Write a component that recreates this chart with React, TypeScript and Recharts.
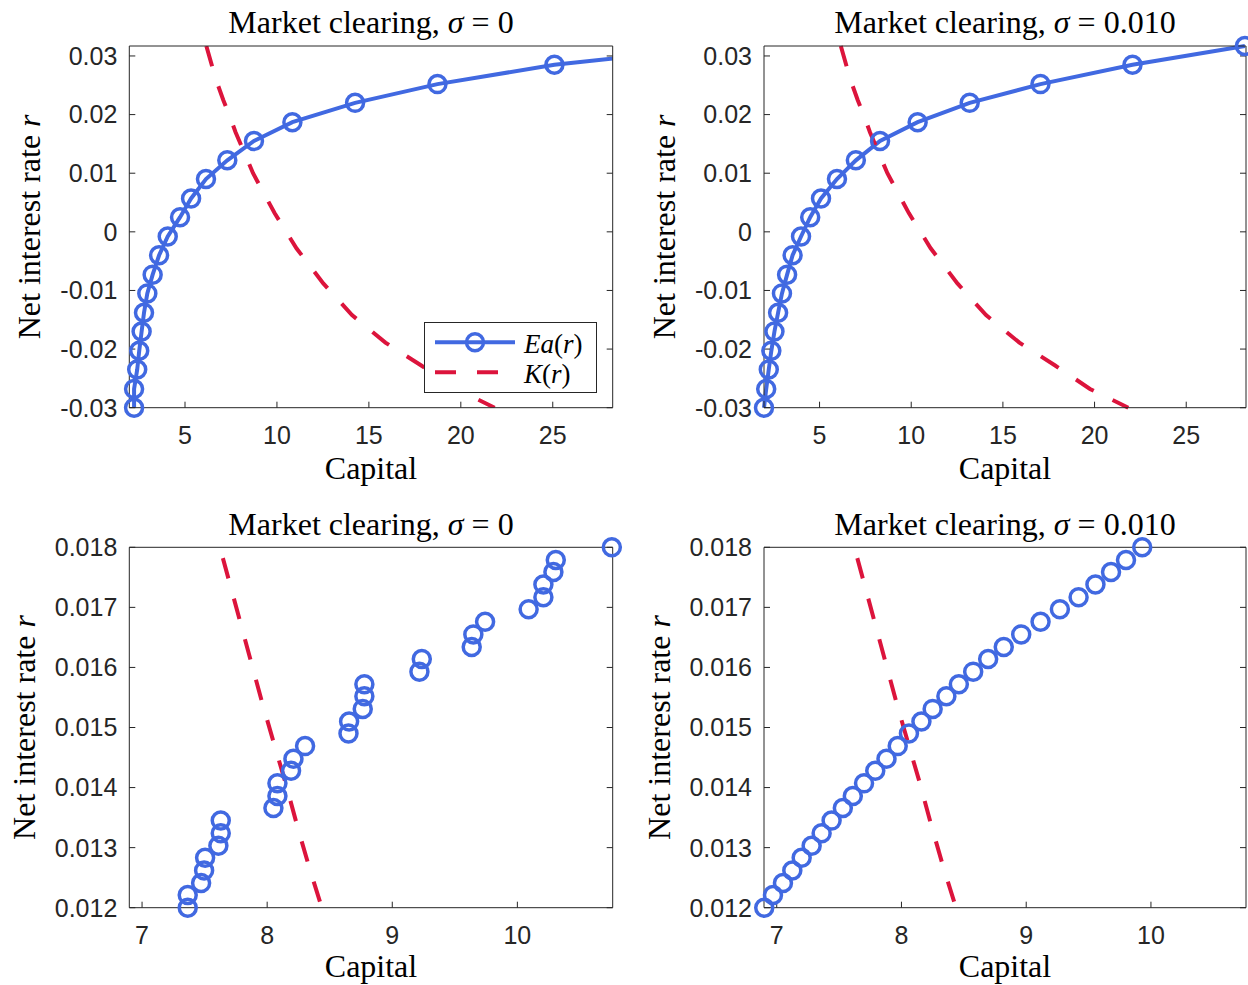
import React from 'react';
import { ComposedChart, Line, Scatter, XAxis, YAxis, Legend } from 'recharts';

// ---------------- data ----------------
const topRate = [-0.03, -0.0268, -0.0235, -0.0203, -0.017, -0.0138, -0.0105, -0.0073, -0.004, -0.0008, 0.0025, 0.0057, 0.009, 0.0122, 0.0155, 0.0187, 0.022, 0.0252, 0.0285, 0.0317];
const topCapitalSigma0 = [2.23, 2.23, 2.4, 2.51, 2.64, 2.77, 2.95, 3.24, 3.59, 4.06, 4.73, 5.33, 6.14, 7.3, 8.75, 10.84, 14.25, 18.73, 25.09, 34.5];
const topCapitalSigma1 = [1.97, 2.09, 2.23, 2.37, 2.54, 2.74, 2.95, 3.23, 3.53, 3.99, 4.49, 5.08, 5.95, 6.98, 8.3, 10.35, 13.19, 17.05, 22.07, 28.2];
const topKCapital = [6.16, 6.68, 7.08, 7.4, 7.75, 8.7, 9.87, 11.06, 12.52, 14.08, 15.9, 17.85, 19.75, 21.84];
const topKRate = [0.0317, 0.026, 0.0225, 0.02, 0.017, 0.01, 0.0032, -0.0028, -0.0088, -0.0142, -0.0189, -0.0228, -0.0268, -0.03];

const botRate = [0.012, 0.01221, 0.01241, 0.01262, 0.01283, 0.01303, 0.01324, 0.01345, 0.01366, 0.01386, 0.01407, 0.01428, 0.01448, 0.01469, 0.0149, 0.0151, 0.01531, 0.01552, 0.01572, 0.01593, 0.01614, 0.01634, 0.01655, 0.01676, 0.01697, 0.01717, 0.01738, 0.01759, 0.01779, 0.018];
const botCapitalSigma0 = [7.365, 7.365, 7.472, 7.496, 7.504, 7.61, 7.629, 7.629, 8.05, 8.082, 8.082, 8.191, 8.21, 8.303, 8.65, 8.655, 8.764, 8.777, 8.777, 9.217, 9.236, 9.635, 9.648, 9.742, 10.09, 10.208, 10.208, 10.288, 10.307, 10.755];
const botCapitalSigma1 = [6.9, 6.97, 7.05, 7.125, 7.2, 7.28, 7.36, 7.44, 7.53, 7.61, 7.7, 7.79, 7.88, 7.97, 8.06, 8.16, 8.25, 8.36, 8.46, 8.575, 8.695, 8.82, 8.96, 9.115, 9.27, 9.42, 9.555, 9.68, 9.8, 9.93];
const botKCapital = [7.646, 7.774, 7.868, 7.962, 8.055, 8.148, 8.242, 8.335, 8.437];
const botKRate = [0.01782, 0.01684, 0.01612, 0.0154, 0.01473, 0.01407, 0.01335, 0.01268, 0.012];

const topXTicks = [5, 10, 15, 20, 25];
const topYTicks = [-0.03, -0.02, -0.01, 0, 0.01, 0.02, 0.03];
const topYTickLabels = ['-0.03', '-0.02', '-0.01', '0', '0.01', '0.02', '0.03'];
const botXTicks = [7, 8, 9, 10];
const botYTicks = [0.012, 0.013, 0.014, 0.015, 0.016, 0.017, 0.018];
const botYTickLabels = ['0.012', '0.013', '0.014', '0.015', '0.016', '0.017', '0.018'];
const sigmaLabels = ['0', '0.010'];

// ---------------- style ----------------
const BLUE = '#4169E1';
const RED = '#DC143C';
const AX = '#262626';
const SERIF = '"Liberation Serif", "Times New Roman", serif';
const SANS = '"Liberation Sans", Arial, Helvetica, sans-serif';

type Pt = { k: number; r: number };
const zip = (xs: number[], ys: number[]): Pt[] => xs.map((k, i) => ({ k, r: ys[i] }));

const LegendBox = () => (
  <svg width={173} height={71} style={{ display: 'block' }}>
    <rect x={0.5} y={0.5} width={172} height={70} fill="#fff" stroke={AX} strokeWidth={1} />
    <line x1={11} x2={91} y1={20.3} y2={20.3} stroke={BLUE} strokeWidth={4} />
    <circle cx={51} cy={20.3} r={8.5} fill="none" stroke={BLUE} strokeWidth={3.5} />
    <line x1={11} x2={91} y1={50.3} y2={50.3} stroke={RED} strokeWidth={4} strokeDasharray="21 21" />
    <text x={100} y={30.5} fontFamily={SERIF} fontSize={27} fill="#000">
      <tspan fontStyle="italic">Ea</tspan>(<tspan fontStyle="italic">r</tspan>)
    </text>
    <text x={100} y={60.5} fontFamily={SERIF} fontSize={27} fill="#000">
      <tspan fontStyle="italic">K</tspan>(<tspan fontStyle="italic">r</tspan>)
    </text>
  </svg>
);

type PanelProps = {
  left: number;
  top: number;
  width: number;
  height: number;
  plot: { l: number; t: number; r: number; b: number };
  xDomain: [number, number];
  yDomain: [number, number];
  xTicks: number[];
  yTicks: number[];
  yTickLabels: string[];
  ea: Pt[];
  kLine: Pt[];
  connect: boolean;
  overflow: boolean;
  legend: boolean;
  sigma: string;
  yLabelX: number;
  titleY: number;
  xLabelY: number;
};

const Panel = (p: PanelProps) => {
  const cx = (p.plot.l + p.plot.r) / 2;
  const cy = (p.plot.t + p.plot.b) / 2;
  const tickStyle = { fill: AX, fontSize: 25, fontFamily: SANS };
  const fmtY = (v: number) => {
    const i = p.yTicks.findIndex((t) => Math.abs(t - v) < 1e-9);
    return i >= 0 ? p.yTickLabels[i] : String(v);
  };
  const dotStyle = { r: 8.5, stroke: BLUE, strokeWidth: 3.5, fill: 'none', clipDot: false } as any;
  const circleShape = (s: any) => (
    <circle cx={s.cx} cy={s.cy} r={8.5} fill="none" stroke={BLUE} strokeWidth={3.5} />
  );
  return (
    <div style={{ position: 'absolute', left: p.left, top: p.top, width: p.width, height: p.height }}>
      <ComposedChart
        width={p.width}
        height={p.height}
        margin={{ top: p.plot.t - 1, right: p.width - p.plot.r - 1, bottom: 0, left: 0 }}
      >
        <XAxis
          xAxisId="b"
          dataKey="k"
          type="number"
          orientation="bottom"
          domain={p.xDomain}
          ticks={p.xTicks}
          interval={0}
          allowDataOverflow={p.overflow}
          height={p.height - p.plot.b}
          stroke={AX}
          tickLine={{ stroke: AX }}
          tickSize={-6}
          tickMargin={25}
          tick={tickStyle}
          label={{
            content: () => (
              <text x={cx} y={p.xLabelY} textAnchor="middle" fontFamily={SERIF} fontSize={32} fill="#000">
                Capital
              </text>
            ),
          }}
        />
        <XAxis
          xAxisId="t"
          type="number"
          orientation="top"
          domain={p.xDomain}
          ticks={p.xTicks}
          interval={0}
          allowDataOverflow
          height={1}
          stroke={AX}
          tickLine={{ stroke: AX }}
          tickSize={-6}
          tickFormatter={() => ''}
          label={{
            content: () => (
              <text x={cx} y={p.titleY} textAnchor="middle" fontFamily={SERIF} fontSize={32} fill="#000">
                {'Market clearing, '}
                <tspan fontStyle="italic">σ</tspan>
                {' = ' + p.sigma}
              </text>
            ),
          }}
        />
        <YAxis
          yAxisId="l"
          dataKey="r"
          type="number"
          orientation="left"
          domain={p.yDomain}
          ticks={p.yTicks}
          interval={0}
          allowDataOverflow={p.overflow}
          width={p.plot.l}
          stroke={AX}
          tickLine={{ stroke: AX }}
          tickSize={-6}
          tickMargin={18}
          tick={tickStyle}
          tickFormatter={fmtY}
          label={{
            content: () => (
              <text
                x={p.yLabelX}
                y={cy}
                textAnchor="middle"
                transform={`rotate(-90 ${p.yLabelX} ${cy})`}
                fontFamily={SERIF}
                fontSize={32}
                fill="#000"
              >
                {'Net interest rate '}
                <tspan fontStyle="italic">r</tspan>
              </text>
            ),
          }}
        />
        <YAxis
          yAxisId="rt"
          type="number"
          orientation="right"
          domain={p.yDomain}
          ticks={p.yTicks}
          interval={0}
          allowDataOverflow
          width={1}
          stroke={AX}
          tickLine={{ stroke: AX }}
          tickSize={-6}
          tickFormatter={() => ''}
        />
        {p.connect ? (
          <Line
            xAxisId="b"
            yAxisId="l"
            data={p.ea}
            dataKey="r"
            type="linear"
            stroke={BLUE}
            strokeWidth={4}
            dot={dotStyle}
            activeDot={false}
            isAnimationActive={false}
            legendType="circle"
          />
        ) : (
          <Scatter
            xAxisId="b"
            yAxisId="l"
            data={p.ea}
            dataKey="r"
            fill="none"
            shape={circleShape}
            isAnimationActive={false}
          />
        )}
        <Line
          xAxisId="b"
          yAxisId="l"
          data={p.kLine}
          dataKey="r"
          type="linear"
          stroke={RED}
          strokeWidth={4}
          strokeDasharray="21 21"
          dot={false}
          activeDot={false}
          isAnimationActive={false}
        />
        {p.legend && (
          <Legend
            layout="horizontal"
            verticalAlign="middle"
            align="center"
            wrapperStyle={{ position: 'absolute', left: 424, top: 322, width: 173, height: 71, margin: 0, padding: 0 }}
            content={() => <LegendBox />}
          />
        )}
      </ComposedChart>
    </div>
  );
};

const TOP_X: [number, number] = [1.97, 28.26];
const TOP_Y: [number, number] = [-0.03, 0.0317];
const BOT_X: [number, number] = [6.898, 10.762];
const BOT_Y: [number, number] = [0.012, 0.018];

export default function App() {
  return (
    <div
      style={{
        position: 'absolute',
        left: 0,
        top: 0,
        width: 1248,
        height: 985,
        background: '#fff',
        overflow: 'hidden',
      }}
    >
      <Panel
        left={0}
        top={0}
        width={624}
        height={490}
        plot={{ l: 129.3, t: 46, r: 612.7, b: 407.7 }}
        xDomain={TOP_X}
        yDomain={TOP_Y}
        xTicks={topXTicks}
        yTicks={topYTicks}
        yTickLabels={topYTickLabels}
        ea={zip(topCapitalSigma0, topRate)}
        kLine={zip(topKCapital, topKRate)}
        connect
        overflow
        legend
        sigma={sigmaLabels[0]}
        yLabelX={40.5}
        titleY={33}
        xLabelY={479}
      />
      <Panel
        left={624}
        top={0}
        width={624}
        height={490}
        plot={{ l: 140, t: 46, r: 622, b: 407.7 }}
        xDomain={TOP_X}
        yDomain={TOP_Y}
        xTicks={topXTicks}
        yTicks={topYTicks}
        yTickLabels={topYTickLabels}
        ea={zip(topCapitalSigma1, topRate)}
        kLine={zip(topKCapital, topKRate)}
        connect
        overflow={false}
        legend={false}
        sigma={sigmaLabels[1]}
        yLabelX={51}
        titleY={33}
        xLabelY={479}
      />
      <Panel
        left={0}
        top={500}
        width={624}
        height={485}
        plot={{ l: 129.3, t: 47.3, r: 612.7, b: 407.7 }}
        xDomain={BOT_X}
        yDomain={BOT_Y}
        xTicks={botXTicks}
        yTicks={botYTicks}
        yTickLabels={botYTickLabels}
        ea={zip(botCapitalSigma0, botRate)}
        kLine={zip(botKCapital, botKRate)}
        connect={false}
        overflow={false}
        legend={false}
        sigma={sigmaLabels[0]}
        yLabelX={35}
        titleY={34.5}
        xLabelY={477}
      />
      <Panel
        left={624}
        top={500}
        width={624}
        height={485}
        plot={{ l: 140, t: 47.3, r: 622, b: 407.7 }}
        xDomain={BOT_X}
        yDomain={BOT_Y}
        xTicks={botXTicks}
        yTicks={botYTicks}
        yTickLabels={botYTickLabels}
        ea={zip(botCapitalSigma1, botRate)}
        kLine={zip(botKCapital, botKRate)}
        connect={false}
        overflow={false}
        legend={false}
        sigma={sigmaLabels[1]}
        yLabelX={46}
        titleY={34.5}
        xLabelY={477}
      />
    </div>
  );
}
